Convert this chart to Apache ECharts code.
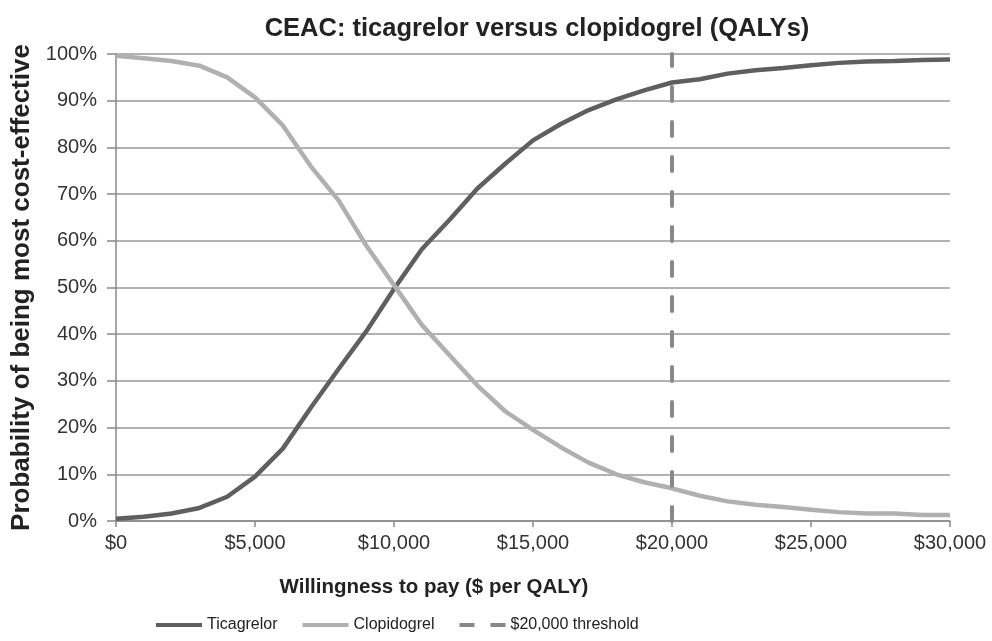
<!DOCTYPE html>
<html>
<head>
    <meta charset="utf-8">
    <title>CEAC</title>
    <script src="https://cdn.jsdelivr.net/npm/echarts@6/dist/echarts.min.js"></script>
    <style>
        body{ margin:0; background:#fff; }
        #chart{ width:992px; height:641px; }
    </style>
</head>
<body>
    <div id="chart"></div>
    <script type="text/javascript">
    // willingness to pay, $ per QALY
    var wtp = [0,1000,2000,3000,4000,5000,6000,7000,8000,9000,10000,
               11000,12000,13000,14000,15000,16000,17000,18000,19000,20000,
               21000,22000,23000,24000,25000,26000,27000,28000,29000,30000];
    // probability cost-effective, %
    var ticagrelor = [0.5,0.9,1.6,2.8,5.2,9.5,15.5,24.2,32.5,40.6,49.7,
                      58.2,64.5,71.2,76.5,81.5,85,88,90.3,92.2,93.9,
                      94.6,95.8,96.5,97.0,97.6,98.1,98.4,98.5,98.7,98.8];
    var clopidogrel = [99.6,99.1,98.5,97.5,95,90.7,84.7,76,68.7,59,50.5,
                       42,35.5,29,23.5,19.5,15.8,12.5,10,8.3,7,
                       5.4,4.2,3.5,3.0,2.4,1.9,1.6,1.6,1.3,1.3];
    var threshold = 20000;
    var legendNames = ['Ticagrelor', 'Clopidogrel', '$20,000 threshold'];

    function pairs(ys){
        var out = [];
        for(var i = 0; i < wtp.length; i++){
            out.push([wtp[i], ys[i]]);
        }
        return out;
    }

    var font = 'Liberation Sans, Arial, sans-serif';
    var myChart = echarts.init(document.getElementById('chart'));

    var option = {
        animation: false,
        textStyle: { fontFamily: font },
        title: {
            text: 'CEAC: ticagrelor versus clopidogrel (QALYs)',
            left: 532, textAlign: 'center', top: 11,
            textStyle: { fontSize: 25.5, fontWeight: 'bold', color: '#222', fontFamily: font }
        },
        legend: {
            bottom: 3, left: 151,
            itemWidth: 46, itemHeight: 4, itemGap: 25,
            textStyle: { fontSize: 16, color: '#222', fontFamily: font },
            data: [
                { name: legendNames[0], icon: 'path://M0,0h46v4h-46z', itemStyle: { color: '#5f5f5f' } },
                { name: legendNames[1], icon: 'path://M0,0h46v4h-46z', itemStyle: { color: '#b0b0b0' } },
                { name: legendNames[2], icon: 'path://M0,0h15v4h-15zM31,0h15v4h-15z', itemStyle: { color: '#888' } }
            ]
        },
        grid: { left: 116, right: 42, top: 54, bottom: 120, containLabel: false },
        xAxis: {
            type: 'value', min: 0, max: 30000, interval: 5000,
            name: 'Willingness to pay ($ per QALY)',
            nameLocation: 'middle', nameGap: 56,
            nameTextStyle: {
                fontSize: 20.5, fontWeight: 'bold', color: '#222', fontFamily: font,
                padding: [0, 198, 0, 0]
            },
            axisLine: { lineStyle: { color: '#888', width: 1.5 } },
            axisTick: { show: true, length: 6, lineStyle: { color: '#888', width: 1.5 } },
            axisLabel: {
                fontSize: 20, color: '#333', margin: 12,
                formatter: function(v){ return '$' + v.toLocaleString('en-US'); }
            },
            splitLine: { show: false }
        },
        yAxis: {
            type: 'value', min: 0, max: 100, interval: 10,
            name: 'Probability of being most cost-effective',
            nameLocation: 'middle', nameGap: 80,
            nameTextStyle: { fontSize: 26, fontWeight: 'bold', color: '#222', fontFamily: font },
            axisLine: { show: true, lineStyle: { color: '#888', width: 1.5 } },
            axisTick: { show: true, length: 9, lineStyle: { color: '#888', width: 1.5 } },
            axisLabel: { fontSize: 20, color: '#333', margin: 19, formatter: '{value}%' },
            splitLine: { lineStyle: { color: '#999', width: 1.5 } }
        },
        series: [
            {
                name: legendNames[0], type: 'line', data: pairs(ticagrelor),
                symbol: 'none', color: '#5f5f5f',
                lineStyle: { width: 4.5, color: '#5f5f5f' }
            },
            {
                name: legendNames[1], type: 'line', data: pairs(clopidogrel),
                symbol: 'none', color: '#b0b0b0',
                lineStyle: { width: 4.5, color: '#b0b0b0' }
            },
            {
                name: legendNames[2], type: 'line',
                data: [[threshold, 0], [threshold, 100]],
                symbol: 'none', color: '#888',
                lineStyle: { width: 4, color: '#888', type: [14, 21], cap: 'round' }
            }
        ]
    };

    myChart.setOption(option);
    </script>
</body>
</html>
